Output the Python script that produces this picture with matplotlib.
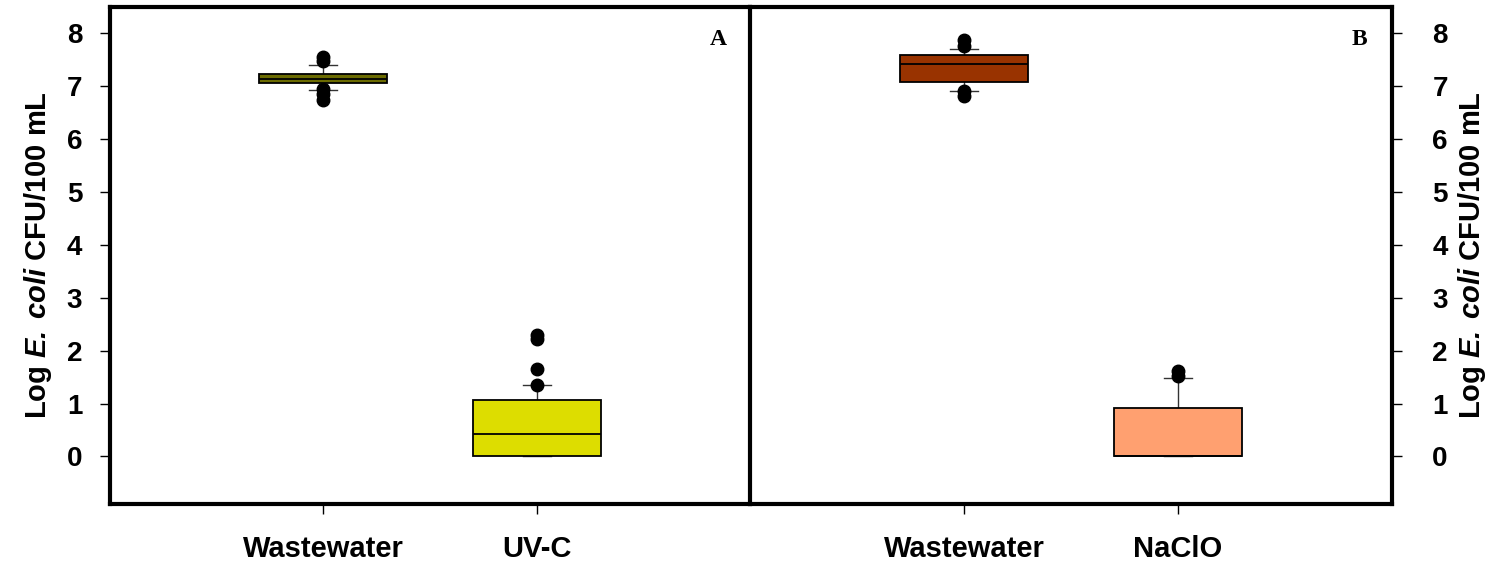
import matplotlib
matplotlib.use("Agg")
import matplotlib.pyplot as plt

plt.rcParams['font.family'] = ['Liberation Sans', 'DejaVu Sans']
plt.rcParams['font.weight'] = 'bold'
plt.rcParams['axes.labelweight'] = 'bold'
plt.rcParams['mathtext.fontset'] = 'custom'
plt.rcParams['mathtext.bfit'] = 'Liberation Sans:bold:italic'
plt.rcParams['mathtext.bf'] = 'Liberation Sans:bold'
plt.rcParams['mathtext.rm'] = 'Liberation Sans:bold'

# panel A: wastewater vs UV-C
labels_a = ["Wastewater", "UV-C"]
colors_a = ["#6b6b00", "#dddd00"]
q1_a = [7.06, 0.0]
med_a = [7.14, 0.43]
q3_a = [7.23, 1.07]
wlo_a = [6.93, 0.0]
whi_a = [7.40, 1.36]
fliers_a = [[7.55, 7.47, 6.95, 6.85, 6.75], [1.36, 1.66, 2.22, 2.30]]

# panel B: wastewater vs NaClO
labels_b = ["Wastewater", "NaClO"]
colors_b = ["#993300", "#ffa070"]
q1_b = [7.08, 0.0]
med_b = [7.42, 0.0]
q3_b = [7.59, 0.92]
wlo_b = [6.91, 0.0]
whi_b = [7.70, 1.49]
fliers_b = [[7.88, 7.76, 6.92, 6.82], [1.62, 1.52]]


def make_stats(labels, q1, med, q3, wlo, whi, fl):
    out = []
    for i in range(len(labels)):
        out.append(dict(label=labels[i], q1=q1[i], med=med[i], q3=q3[i],
                        whislo=wlo[i], whishi=whi[i], fliers=fl[i]))
    return out


fig = plt.figure(figsize=(15.04, 5.61), dpi=100)
H = 1 - 7/561 - (1 - 504/561)
ax2 = fig.add_axes([750/1504, 1 - 504/561, (1392 - 750)/1504, H])
ax1 = fig.add_axes([110/1504, 1 - 504/561, (750 - 110)/1504, H])
ax1.patch.set_alpha(0)

ylab = r'Log $\mathbfit{E.\,coli}$ CFU/100 mL'

for ax, st, cols, tag in [(ax1, make_stats(labels_a, q1_a, med_a, q3_a, wlo_a, whi_a, fliers_a), colors_a, "A"),
                          (ax2, make_stats(labels_b, q1_b, med_b, q3_b, wlo_b, whi_b, fliers_b), colors_b, "B")]:
    bp = ax.bxp(st, positions=[1, 2], widths=0.6, capwidths=0.13, patch_artist=True,
                boxprops=dict(linewidth=1.3, edgecolor="black"),
                medianprops=dict(color="black", linewidth=1.3),
                whiskerprops=dict(color="#333333", linewidth=1),
                capprops=dict(color="#333333", linewidth=1),
                flierprops=dict(marker="o", markerfacecolor="black", markeredgecolor="black", markersize=9))
    for patch, c in zip(bp["boxes"], cols):
        patch.set_facecolor(c)
        patch.set_zorder(3)
    for m in bp["medians"]:
        m.set_zorder(4)
    ax.set_xlim(0, 3)
    ax.set_ylim(-0.9, 8.5)
    ax.set_yticks(range(0, 9))
    for s in ax.spines.values():
        s.set_linewidth(3)
    ax.tick_params(axis="y", direction="out", length=7, width=1, labelsize=20)
    ax.tick_params(axis="x", direction="out", length=7, width=1, labelsize=21, pad=15)
    ax.text(0.95, 0.935, tag, transform=ax.transAxes, ha="center", va="center",
            fontsize=17, fontweight="bold", family="Liberation Serif")
    ax.set_ylabel(ylab, fontsize=21, fontweight="bold")

ax1.tick_params(axis="y", pad=13)
ax1.yaxis.labelpad = 9
ax2.yaxis.tick_right()
ax2.yaxis.set_label_position("right")
ax2.tick_params(axis="y", pad=22)
ax2.yaxis.labelpad = 6
ax2.spines["left"].set_visible(False)

fig.savefig("out.png", dpi=100)
